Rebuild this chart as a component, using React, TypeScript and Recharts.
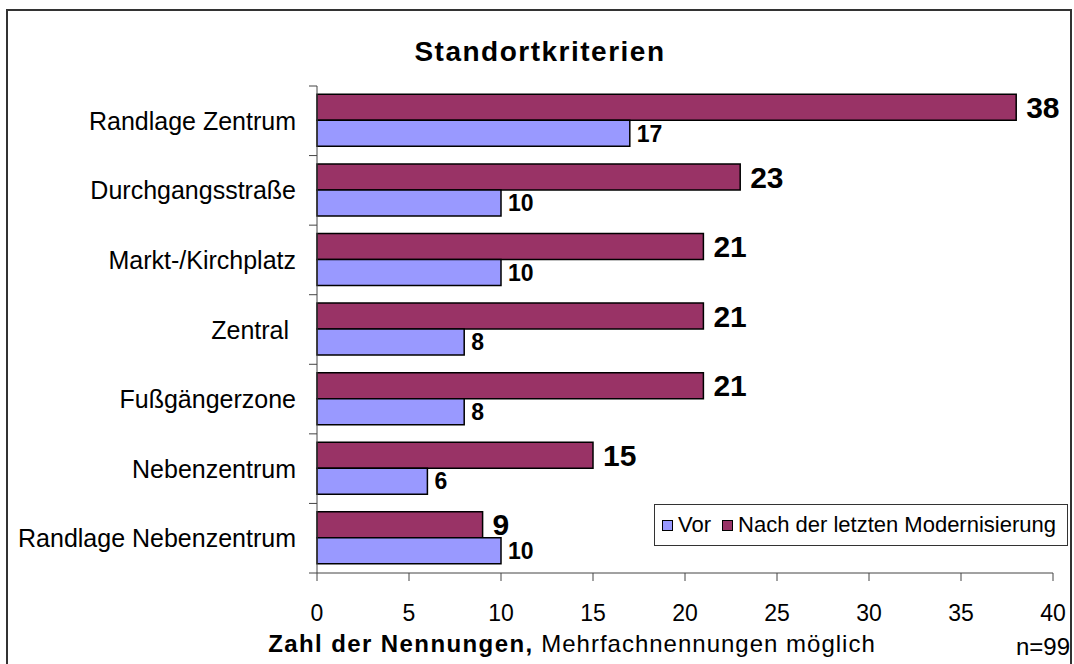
import React from "react";
import { Bar, BarChart, LabelList, XAxis, YAxis } from "recharts";

const categories = [
  "Randlage Zentrum",
  "Durchgangsstraße",
  "Markt-/Kirchplatz",
  "Zentral\u00a0",
  "Fußgängerzone",
  "Nebenzentrum",
  "Randlage Nebenzentrum",
];
const vor = [17, 10, 10, 8, 8, 6, 10];
const nach = [38, 23, 21, 21, 21, 15, 9];
const xTicks = [0, 5, 10, 15, 20, 25, 30, 35, 40];
const seriesNames = ["Vor", "Nach der letzten Modernisierung"];

const FONT = "'Liberation Sans', Arial, sans-serif";
const W = 1074;
const H = 664;
const MARGIN = { top: 86, right: 21, bottom: 61, left: 0 };
const X_AXIS_H = 30;
const TICK_SIZE = 8;
const TICK_MARGIN = 13;
const BAND = (H - MARGIN.top - MARGIN.bottom - X_AXIS_H) / categories.length;
const AXIS = "#444";
const BLUE = "#9999ff";
const MAROON = "#993366";

const data = categories.map((name, i) => ({ name, vor: vor[i], nach: nach[i] }));

function CategoryTick(props: any) {
  const { x, y, payload, index } = props;
  const half = BAND / 2;
  const lx = x + TICK_MARGIN;
  return (
    <g>
      <text
        x={x}
        y={y}
        textAnchor="end"
        dominantBaseline="central"
        fontSize={25}
        fontFamily={FONT}
        fill="#000"
      >
        {payload.value}
      </text>
      <line x1={lx} x2={lx + TICK_SIZE} y1={y - half} y2={y - half} stroke={AXIS} />
      {index === categories.length - 1 && (
        <line x1={lx} x2={lx + TICK_SIZE} y1={y + half} y2={y + half} stroke={AXIS} />
      )}
    </g>
  );
}

export default function App() {
  return (
    <div
      style={{
        position: "absolute",
        left: 0,
        top: 0,
        width: W,
        height: H,
        overflow: "hidden",
        background: "#fff",
        fontFamily: FONT,
      }}
    >
      <div
        style={{
          position: "absolute",
          left: 6,
          top: 9,
          width: 1062,
          height: 720,
          border: "2px solid #333",
        }}
      />
      <BarChart
        width={W}
        height={H}
        data={data}
        layout="vertical"
        margin={MARGIN}
        barCategoryGap="12%"
        barGap={0}
        style={{ position: "absolute", left: 0, top: 0 }}
      >
        <XAxis
          type="number"
          domain={[0, 40]}
          ticks={xTicks}
          height={X_AXIS_H}
          tickSize={TICK_SIZE}
          tickMargin={24}
          interval={0}
          axisLine={{ stroke: AXIS }}
          tickLine={{ stroke: AXIS }}
          tick={{ fill: "#000", fontSize: 23, fontFamily: FONT }}
        />
        <YAxis
          type="category"
          dataKey="name"
          width={317}
          interval={0}
          tickSize={TICK_SIZE}
          tickMargin={TICK_MARGIN}
          tickLine={false}
          axisLine={{ stroke: AXIS }}
          tick={<CategoryTick />}
        />
        <Bar
          dataKey="nach"
          name={seriesNames[1]}
          fill={MAROON}
          stroke="#000"
          strokeWidth={1.5}
          isAnimationActive={false}
        >
          <LabelList
            dataKey="nach"
            position="right"
            offset={10}
            style={{ fontSize: 30, fontWeight: 700, fill: "#000", fontFamily: FONT }}
          />
        </Bar>
        <Bar
          dataKey="vor"
          name={seriesNames[0]}
          fill={BLUE}
          stroke="#000"
          strokeWidth={1.5}
          isAnimationActive={false}
        >
          <LabelList
            dataKey="vor"
            position="right"
            offset={7}
            style={{ fontSize: 23, fontWeight: 700, fill: "#000", fontFamily: FONT }}
          />
        </Bar>
      </BarChart>

      <div
        style={{
          position: "absolute",
          left: 0,
          width: 1080,
          top: 38,
          textAlign: "center",
          fontSize: 28,
          lineHeight: "28px",
          fontWeight: 700,
          letterSpacing: 1.5,
        }}
      >
        Standortkriterien
      </div>

      <div
        style={{
          position: "absolute",
          left: 654,
          top: 504,
          width: 405,
          height: 40,
          border: "1px solid #333",
          background: "#fff",
          display: "flex",
          alignItems: "center",
          paddingLeft: 7,
          boxSizing: "content-box",
          fontSize: 22,
          whiteSpace: "nowrap",
        }}
      >
        {[BLUE, MAROON].map((c, i) => (
          <span key={i} style={{ display: "flex", alignItems: "center", marginRight: 11 }}>
            <span
              style={{
                width: 9,
                height: 9,
                background: c,
                border: "1px solid #000",
                marginRight: 5,
                display: "inline-block",
              }}
            />
            {seriesNames[i]}
          </span>
        ))}
      </div>

      <div
        style={{
          position: "absolute",
          left: 0,
          width: 1144,
          top: 632,
          textAlign: "center",
          fontSize: 24,
          lineHeight: "24px",
          whiteSpace: "nowrap",
        }}
      >
        <span style={{ fontWeight: 700, letterSpacing: 1.4 }}>Zahl der Nennungen,</span>
        <span style={{ letterSpacing: 1 }}> Mehrfachnennungen möglich</span>
      </div>

      <div
        style={{
          position: "absolute",
          right: 4,
          top: 635,
          fontSize: 24,
          lineHeight: "24px",
        }}
      >
        n=99
      </div>
    </div>
  );
}
